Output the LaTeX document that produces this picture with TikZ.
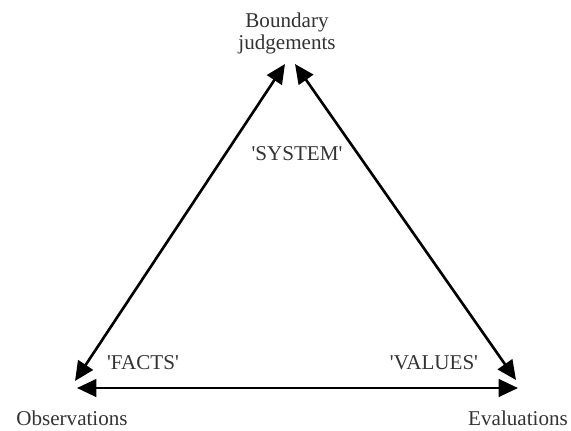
\documentclass[tikz,border=0pt]{standalone}
\usepackage{fontspec}
\setmainfont{Liberation Serif}
\usetikzlibrary{arrows.meta}

\begin{document}
\begin{tikzpicture}[x=0.02cm,y=-0.02cm,
    lbl/.style={anchor=base,font=\fontsize{12}{14}\selectfont,text=black!80},
    side/.style={line width=1.5pt,{Triangle[length=11pt,width=10pt]}-{Triangle[length=11pt,width=10pt]}}]
      \useasboundingbox (0,0) rectangle (571,430);
      \node[lbl] (B1) at (287,27) {Boundary};
      \node[lbl] (B2) at (287,49) {judgements};
      \node[lbl] (O) at (72,425) {Observations};
      \node[lbl] (E) at (518,425) {Evaluations};
        % corner labels
      \node[lbl] (S) at (297,160) {\textquotesingle SYSTEM\textquotesingle};
      \node[lbl] (F) at (143,369) {\textquotesingle FACTS\textquotesingle};
      \node[lbl] (V) at (434,369) {\textquotesingle VALUES\textquotesingle};
      \coordinate (tl) at (285,64);
      \coordinate (tr) at (295,64);
      \coordinate (ol) at (75,381);
      \coordinate (ob) at (77,388);
      \coordinate (er) at (516,380);
      \coordinate (eb) at (518,388);
      \draw[side] (ol) -- (tl);
      \draw[side] (er) -- (tr);
      \draw[side] (ob) -- (eb);
    \end{tikzpicture}
\end{document}
